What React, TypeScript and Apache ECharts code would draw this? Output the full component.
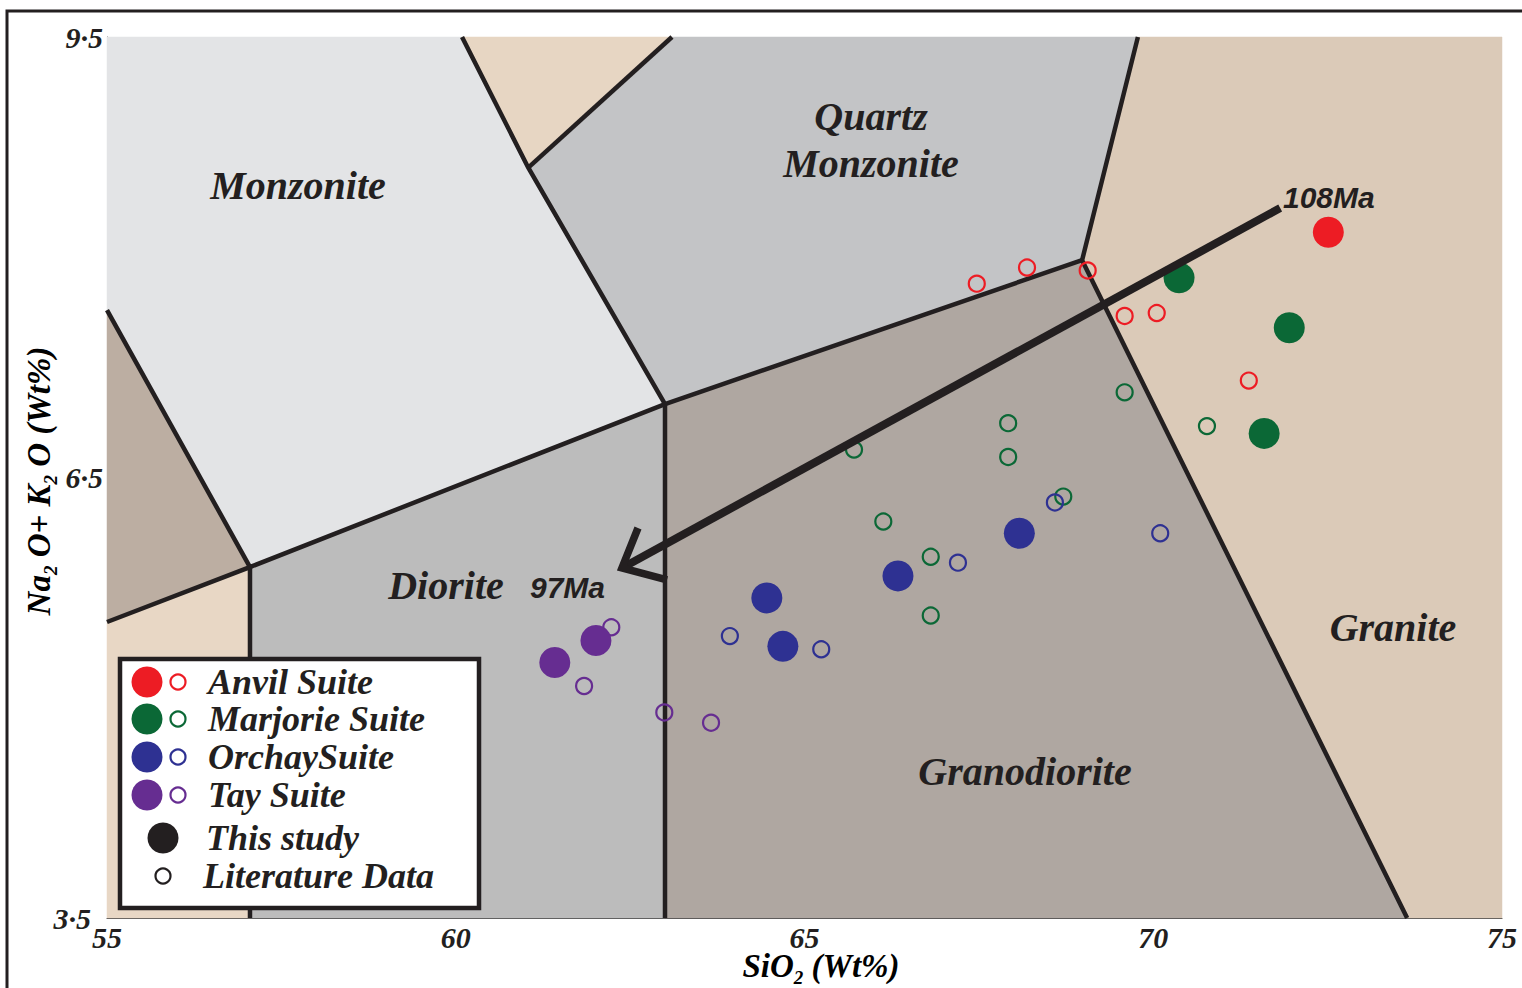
import React, { useEffect, useRef } from "react";
import * as echarts from "echarts";

// ---- Field polygons (SiO2, Na2O+K2O) ----
const monzonite = [[55, 9.5], [60.09, 9.5], [61.04, 8.61], [63, 7], [57.05, 5.89], [55, 7.64]];
const topBeige = [[60.09, 9.5], [63.1, 9.5], [61.04, 8.61]];
const quartzMonzonite = [[63.1, 9.5], [69.78, 9.5], [68.98, 7.98], [63, 7], [61.04, 8.61]];
const granite = [[69.78, 9.5], [75, 9.5], [75, 3.5], [73.64, 3.5], [68.98, 7.98]];
const granodiorite = [[63, 7], [68.98, 7.98], [73.64, 3.5], [63, 3.5]];
const diorite = [[57.05, 5.89], [63, 7], [63, 3.5], [57.05, 3.5]];
const leftBrown = [[55, 7.64], [57.05, 5.89], [55, 5.516]];
const bottomBeige = [[55, 5.516], [57.05, 5.89], [57.05, 3.5], [55, 3.5]];

const regionPolys = [monzonite, topBeige, quartzMonzonite, granite, granodiorite, diorite, leftBrown, bottomBeige];
const regionColors = ["#e3e4e6", "#e7d6c3", "#c3c4c6", "#dbcab8", "#afa7a1", "#bcbcbc", "#bcaea2", "#e8d7c5"];

// ---- Field boundaries ----
const boundary1 = [[60.09, 9.5], [61.04, 8.61], [63, 7], [63, 3.5]];
const boundary2 = [[63.1, 9.5], [61.04, 8.61]];
const boundary3 = [[69.78, 9.5], [68.98, 7.98], [73.64, 3.5]];
const boundary4 = [[55, 7.64], [57.05, 5.89], [63, 7], [68.98, 7.98]];
const boundary5 = [[55, 5.516], [57.05, 5.89], [57.05, 3.5]];
const boundaries = [boundary1, boundary2, boundary3, boundary4, boundary5];

// ---- Age trend arrow ----
const arrowShaft = [[71.82, 8.335], [62.383, 5.884]];
const arrowHead = [[62.613, 6.156], [62.383, 5.884], [63.029, 5.802]];

// ---- This study (filled) ----
const anvilStudy = [[72.51, 8.17]];
const marjorieStudy = [[70.37, 7.86], [71.95, 7.52], [71.59, 6.8]];
const orchayStudy = [[68.08, 6.12], [66.34, 5.83], [64.46, 5.68], [64.69, 5.35]];
const tayStudy = [[62.01, 5.39], [61.42, 5.24]];

// ---- Literature data (open) ----
const anvilLit = [[67.47, 7.82], [68.19, 7.93], [69.06, 7.91], [69.59, 7.6], [70.05, 7.62], [71.37, 7.16]];
const marjorieLit = [[69.59, 7.08], [67.92, 6.87], [67.92, 6.64], [68.71, 6.37], [70.77, 6.85], [66.13, 6.2], [65.71, 6.69], [66.81, 5.96], [66.81, 5.56]];
const orchayLit = [[68.59, 6.33], [70.1, 6.12], [67.2, 5.92], [63.93, 5.42], [65.24, 5.33]];
const tayLit = [[62.23, 5.48], [61.84, 5.08], [62.99, 4.9], [63.66, 4.83]];

const suiteNames = ["Anvil Suite", "Marjorie Suite", "OrchaySuite", "Tay Suite"];
const suiteColors = ["#ed1c24", "#0b6836", "#2e3192", "#662d91"];

const yTickLabels = [3.5, 6.5, 9.5];

const SERIF = "'Liberation Serif', 'Times New Roman', serif";
const SANS = "'Liberation Sans', 'DejaVu Sans', sans-serif";
const INK = "#231f20";

export default function App() {
  const ref = useRef<HTMLDivElement>(null);

  useEffect(() => {
    if (!ref.current) return;
    const chart = echarts.init(ref.current, undefined, { renderer: "svg" });

    const litSets = [anvilLit, marjorieLit, orchayLit, tayLit];
    const studySets = [anvilStudy, marjorieStudy, orchayStudy, tayStudy];

    const series: any[] = [];
    series.push({
      type: "custom",
      name: "fields",
      silent: true,
      z: 1,
      data: regionPolys.map((_, i) => i),
      renderItem: (params: any, api: any) => {
        const idx = api.value(0);
        const pts = regionPolys[idx].map((p) => api.coord(p));
        return {
          type: "polygon",
          shape: { points: pts },
          style: { fill: regionColors[idx], stroke: regionColors[idx], lineWidth: 0.5 },
        };
      },
      encode: { x: -1, y: -1 },
    });
    boundaries.forEach((b) => {
      series.push({
        type: "line",
        data: b,
        symbol: "none",
        silent: true,
        z: 3,
        lineStyle: { color: INK, width: 4.5, join: "miter" },
      });
    });
    litSets.forEach((d, i) => {
      series.push({
        type: "scatter",
        name: suiteNames[i] + " literature",
        data: d,
        symbol: "circle",
        symbolSize: 16,
        z: 4,
        itemStyle: { color: "rgba(0,0,0,0)", borderColor: suiteColors[i], borderWidth: 2.2, opacity: 1 },
      });
    });
    studySets.forEach((d, i) => {
      series.push({
        type: "scatter",
        name: suiteNames[i],
        data: d,
        symbol: "circle",
        symbolSize: 31,
        z: 5,
        itemStyle: { color: suiteColors[i], opacity: 1 },
      });
    });
    series.push({
      type: "line",
      data: arrowShaft,
      symbol: "none",
      silent: true,
      z: 6,
      lineStyle: { color: INK, width: 8, cap: "butt" },
    });
    series.push({
      type: "line",
      data: arrowHead,
      symbol: "none",
      silent: true,
      z: 6,
      lineStyle: { color: INK, width: 7.5, cap: "butt", join: "miter" },
    });

    const labelFont = { fontFamily: SERIF, fontStyle: "italic", fontWeight: "bold", fill: INK };

    const regionLabel = (text: string, x: number, y: number) => ({
      type: "text",
      x,
      y,
      z: 50,
      style: { ...labelFont, text, fontSize: 40, align: "center", verticalAlign: "middle" },
    });

    const legendRows = [682, 719, 757, 795];
    const legendEls: any[] = [
      {
        type: "rect",
        z: 60,
        shape: { x: 120, y: 659, width: 359, height: 249 },
        style: { fill: "#ffffff", stroke: INK, lineWidth: 4.5 },
      },
    ];
    legendRows.forEach((ry, i) => {
      legendEls.push({ type: "circle", z: 61, shape: { cx: 147, cy: ry, r: 15.5 }, style: { fill: suiteColors[i] } });
      legendEls.push({
        type: "circle",
        z: 61,
        shape: { cx: 178, cy: ry, r: 7.5 },
        style: { fill: "none", stroke: suiteColors[i], lineWidth: 2.2 },
      });
      legendEls.push({
        type: "text",
        z: 61,
        x: 208,
        y: ry,
        style: { ...labelFont, text: suiteNames[i], fontSize: 36, lineHeight: 34, verticalAlign: "middle" },
      });
    });
    legendEls.push({ type: "circle", z: 61, shape: { cx: 163, cy: 838, r: 15.5 }, style: { fill: INK } });
    legendEls.push({
      type: "text",
      z: 61,
      x: 206,
      y: 838,
      style: { ...labelFont, text: "This study", fontSize: 36, lineHeight: 34, verticalAlign: "middle" },
    });
    legendEls.push({
      type: "circle",
      z: 61,
      shape: { cx: 163, cy: 876, r: 7.5 },
      style: { fill: "none", stroke: INK, lineWidth: 2.2 },
    });
    legendEls.push({
      type: "text",
      z: 61,
      x: 203,
      y: 876,
      style: { ...labelFont, text: "Literature Data", fontSize: 36, lineHeight: 34, verticalAlign: "middle" },
    });

    const titleRich = {
      n: { fontFamily: SERIF, fontStyle: "italic", fontWeight: "bold", fontSize: 33, lineHeight: 42, color: INK },
      s: { fontFamily: SERIF, fontStyle: "italic", fontWeight: "bold", fontSize: 19, lineHeight: 19, color: INK, verticalAlign: "bottom" },
    };

    chart.setOption({
      animation: false,
      backgroundColor: "#ffffff",
      grid: { left: 107, top: 37, right: 20, bottom: 70, containLabel: false },
      xAxis: {
        type: "value",
        min: 55,
        max: 75,
        interval: 5,
        axisLine: { show: true, lineStyle: { color: "#444", width: 1 } },
        axisTick: { show: false },
        splitLine: { show: false },
        axisLabel: {
          margin: 4,
          fontFamily: SERIF,
          fontStyle: "italic",
          fontWeight: "bold",
          fontSize: 30,
          color: INK,
        },
      },
      yAxis: {
        type: "value",
        min: 3.5,
        max: 9.5,
        interval: 0.5,
        axisLine: { show: true, lineStyle: { color: "#444", width: 1 } },
        axisTick: { show: false },
        splitLine: { show: false },
        axisLabel: {
          margin: 4,
          fontFamily: SERIF,
          fontStyle: "italic",
          fontWeight: "bold",
          fontSize: 30,
          color: INK,
          formatter: (v: number) => {
            if (!yTickLabels.some((t) => Math.abs(t - v) < 1e-6)) return "";
            const s = String(v).replace(".", "\u00b7");
            return Math.abs(v - 3.5) < 1e-6 ? "{low|" + s + "}" : s;
          },
          rich: {
            low: {
              fontFamily: SERIF,
              fontStyle: "italic",
              fontWeight: "bold",
              fontSize: 30,
              color: INK,
              padding: [0, 12, 0, 0],
            },
          },
        },
      },
      graphic: [
        {
          type: "rect",
          z: -10,
          silent: true,
          shape: { x: 7, y: 11, width: 1540, height: 1000 },
          style: { fill: "none", stroke: INK, lineWidth: 3 },
        },
        regionLabel("Monzonite", 298, 185),
        regionLabel("Quartz", 871, 116),
        regionLabel("Monzonite", 871, 163),
        regionLabel("Diorite", 446, 585),
        regionLabel("Granodiorite", 1025, 771),
        regionLabel("Granite", 1393, 627),
        {
          type: "text",
          x: 1283,
          y: 197,
          z: 50,
          style: { text: "108Ma", fontFamily: SANS, fontStyle: "italic", fontWeight: "bold", fontSize: 30, fill: INK, verticalAlign: "middle" },
        },
        {
          type: "text",
          x: 530,
          y: 587,
          z: 50,
          style: { text: "97Ma", fontFamily: SANS, fontStyle: "italic", fontWeight: "bold", fontSize: 30, fill: INK, verticalAlign: "middle" },
        },
        {
          type: "text",
          x: 821,
          y: 966,
          z: 50,
          style: {
            text: "{n|SiO}{s|2}{n| (Wt%)}",
            rich: titleRich,
            align: "center",
            verticalAlign: "middle",
          },
        },
        {
          type: "text",
          x: 39,
          y: 481,
          rotation: Math.PI / 2,
          z: 50,
          style: {
            text: "{n|Na}{s|2}{n| O+ K}{s|2}{n| O (Wt%)}",
            rich: titleRich,
            align: "center",
            verticalAlign: "middle",
          },
        },
        ...legendEls,
      ],
      series,
    });

    return () => chart.dispose();
  }, []);

  return (
    <div
      ref={ref}
      style={{ position: "absolute", left: 0, top: 0, width: 1522, height: 988 }}
    />
  );
}
